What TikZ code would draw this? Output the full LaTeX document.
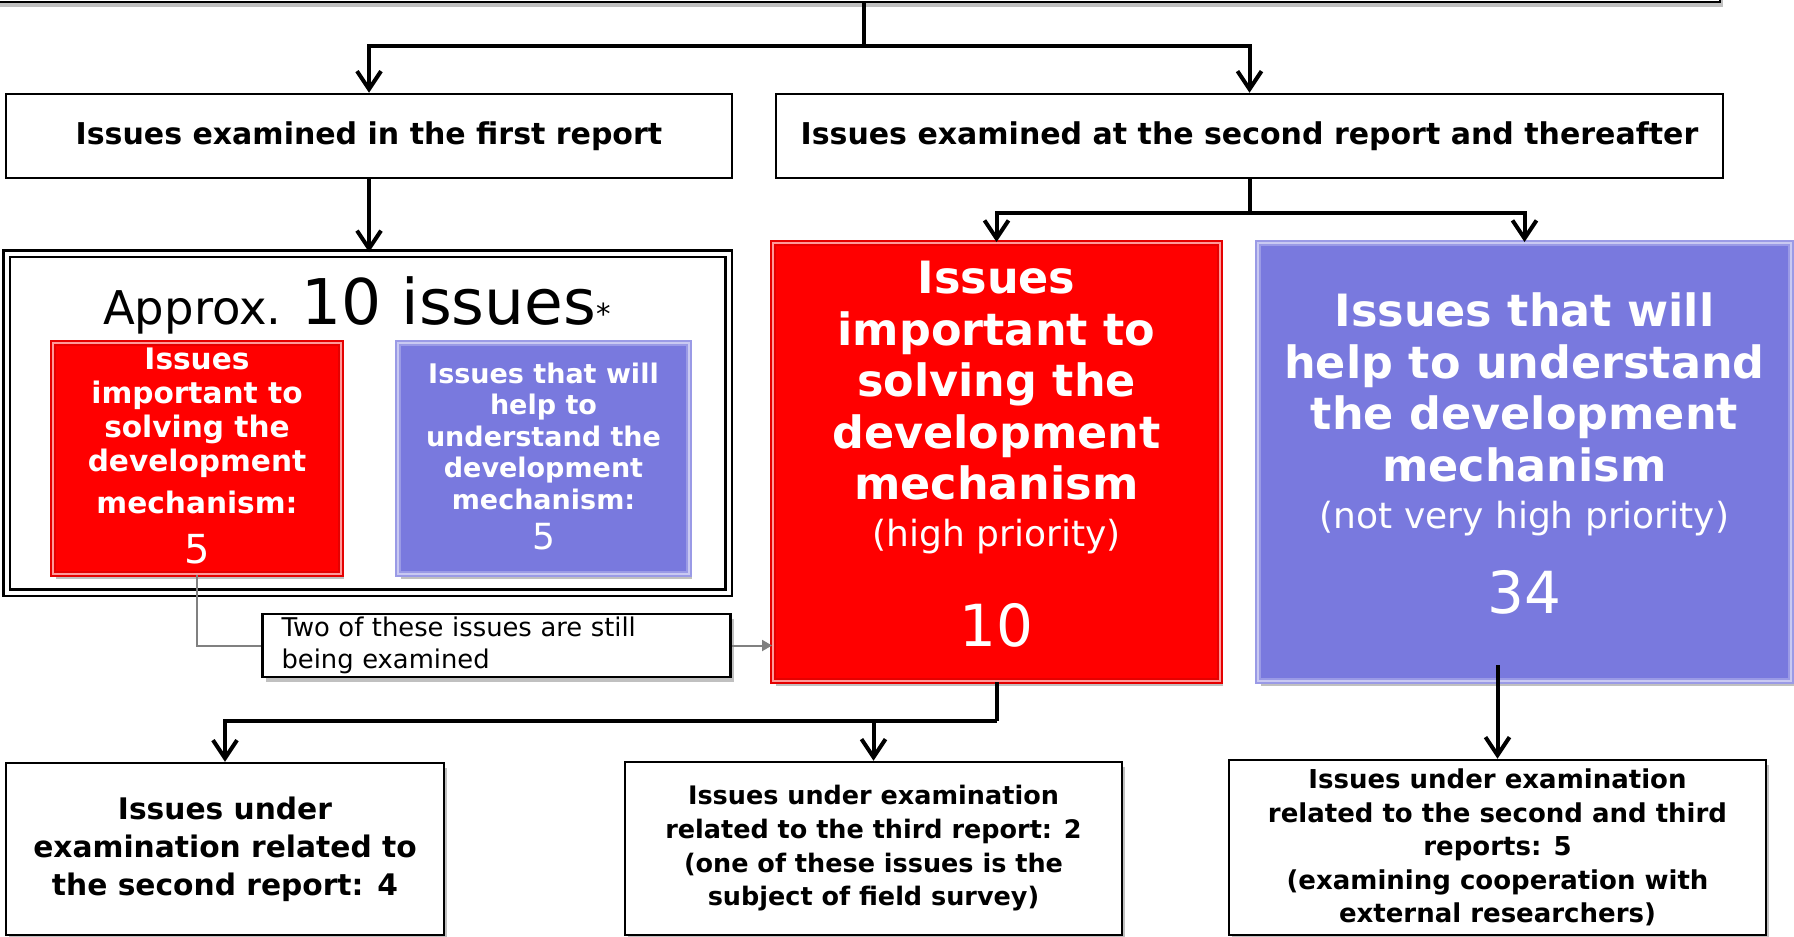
\documentclass[tikz,border=0pt]{standalone}
\usepackage{fontspec}
\setmainfont{DejaVu Sans}
\usetikzlibrary{arrows.meta,positioning,shadows}
\definecolor{issuered}{RGB}{255,0,0}
\definecolor{issueblue}{RGB}{121,121,222}
\definecolor{linkgray}{RGB}{128,128,128}

\begin{document}
\begin{tikzpicture}[x=1pt, y=-1pt,
        titlebox/.style={draw=black, line width=2.5pt, fill=white, inner sep=0pt, align=center, font=\fontsize{30}{36}\selectfont\bfseries},
        shade/.style={drop shadow={shadow xshift=3pt, shadow yshift=-5pt, opacity=0.35, fill=black!70}},
        outerframe/.style={draw=black, double=white, double distance=4pt, line width=2.5pt, inner sep=0pt},
        issue/.style={line width=2pt, double distance=1.5pt, inner sep=0pt, align=center, text=white, shade},
        redissue/.style={issue, fill=issuered, draw=issuered!90!black, double=issuered!40!white},
        blueissue/.style={issue, fill=issueblue, draw=issueblue!75!white, double=issueblue!40!white},
        resultbox/.style={titlebox, shade},
        notebox/.style={draw=black, line width=2.5pt, fill=white, align=left, inner xsep=19pt, inner ysep=0pt, text width=430pt, minimum height=63pt, font=\fontsize{25.8}{32}\selectfont, shade},
        conn/.style={draw=black, line width=4pt},
        arrow/.style={conn, -{Straight Barb[length=18pt,width=24pt]}},
        grayline/.style={draw=linkgray, line width=2pt},
        grayarrow/.style={grayline, -{Triangle[length=10pt,width=11pt]}}
    ]
    \path[use as bounding box, fill=white] (0,0) rectangle (1794,937);
    \node[titlebox, shade, minimum width=1740pt, minimum height=84pt] (prev) at (850,-40) {};
    \node[titlebox, minimum width=726pt, minimum height=84pt] (first) at (369,136) {Issues examined in the first report};
    \node[titlebox, minimum width=947pt, minimum height=84pt] (later) at (1249.5,136) {Issues examined at the second report and thereafter};
    \node[outerframe, minimum width=722pt, minimum height=339pt] (approx) at (367.5,423) {};
    \node[anchor=base, inner sep=0pt] (approxlabel) at (357,324) {{\fontsize{46.5}{54}\selectfont Approx.}{\fontsize{63}{70}\selectfont\ 10 issues}{\fontsize{29}{30}\selectfont *}};
    \node[redissue, minimum width=288pt, minimum height=231pt, text depth=6pt, font=\fontsize{29.6}{34}\selectfont\bfseries] (firstred) at (197,458.5) {Issues\\important to\\solving the\\development\\[8pt]mechanism:\\[16pt]{\fontsize{40}{44}\selectfont\mdseries 5}};
    \node[blueissue, minimum width=291pt, minimum height=231pt, text depth=5pt, font=\fontsize{27}{31.5}\selectfont\bfseries] (firstblue) at (543.5,458.5) {Issues that will\\help to\\understand the\\development\\mechanism:\\[8.5pt]{\fontsize{36}{40}\selectfont\mdseries 5}};
    \node[notebox] (still) at (496.5,645.5) {Two of these issues are still\\being examined};
    \node[redissue, minimum width=447pt, minimum height=438pt, text depth=16pt, font=\fontsize{44.5}{51.5}\selectfont\bfseries] (highred) at (996.5,462) {Issues\\important to\\solving the\\development\\mechanism\\[-4.5pt]{\fontsize{36}{42}\selectfont\mdseries (high priority)}\\[48.5pt]{\fontsize{58}{64}\selectfont\mdseries 10}};
    \node[blueissue, minimum width=533pt, minimum height=438pt, text depth=18pt, font=\fontsize{44.5}{51.5}\selectfont\bfseries] (highblue) at (1524.5,462) {Issues that will\\help to understand\\the development\\mechanism\\[-4.5pt]{\fontsize{36}{42}\selectfont\mdseries (not very high priority)}\\[33.5pt]{\fontsize{58}{64}\selectfont\mdseries 34}};
    \node[resultbox, minimum width=438pt, minimum height=172pt, font=\fontsize{29.7}{38}\selectfont\bfseries] (second) at (225,849) {Issues under\\examination related to\\the second report: 4};
    \node[resultbox, minimum width=497pt, minimum height=173pt, font=\fontsize{25.5}{33.7}\selectfont\bfseries] (third) at (873.5,848.5) {Issues under examination\\related to the third report: 2\\(one of these issues is the\\subject of field survey)};
    \node[resultbox, minimum width=537pt, minimum height=175pt, font=\fontsize{26}{33.5}\selectfont\bfseries] (both) at (1497.5,847.5) {Issues under examination\\related to the second and third\\reports: 5\\(examining cooperation with\\external researchers)};
    \coordinate (topsplit) at (864,46);
    \coordinate (latersplit) at (1249.5,213);
    \coordinate (highsplit) at (996.5,721);
    \draw[conn] (prev.south -| topsplit) -- (topsplit);
    \draw[arrow] (topsplit) -| (first.north);
    \draw[arrow] (topsplit) -| (later.north);
    \draw[arrow] (first.south) -- (first.south |- approx.north);
    \draw[conn] (later.south) -- (latersplit);
    \draw[arrow] (latersplit) -| (highred.north);
    \draw[arrow] (latersplit) -| (highblue.north);
    \draw[grayline] (firstred.south) |- (still.west);
    \draw[grayarrow] (still.east) -- (still.east -| highred.west);
    \draw[conn] (highred.south) -- (highsplit);
    \draw[arrow] (highsplit) -| (second.north);
    \draw[arrow] (highsplit) -| (third.north);
    \draw[arrow] ([yshift=17pt]highblue.south -| both.north) -- (both.north);
\end{tikzpicture}
\end{document}
